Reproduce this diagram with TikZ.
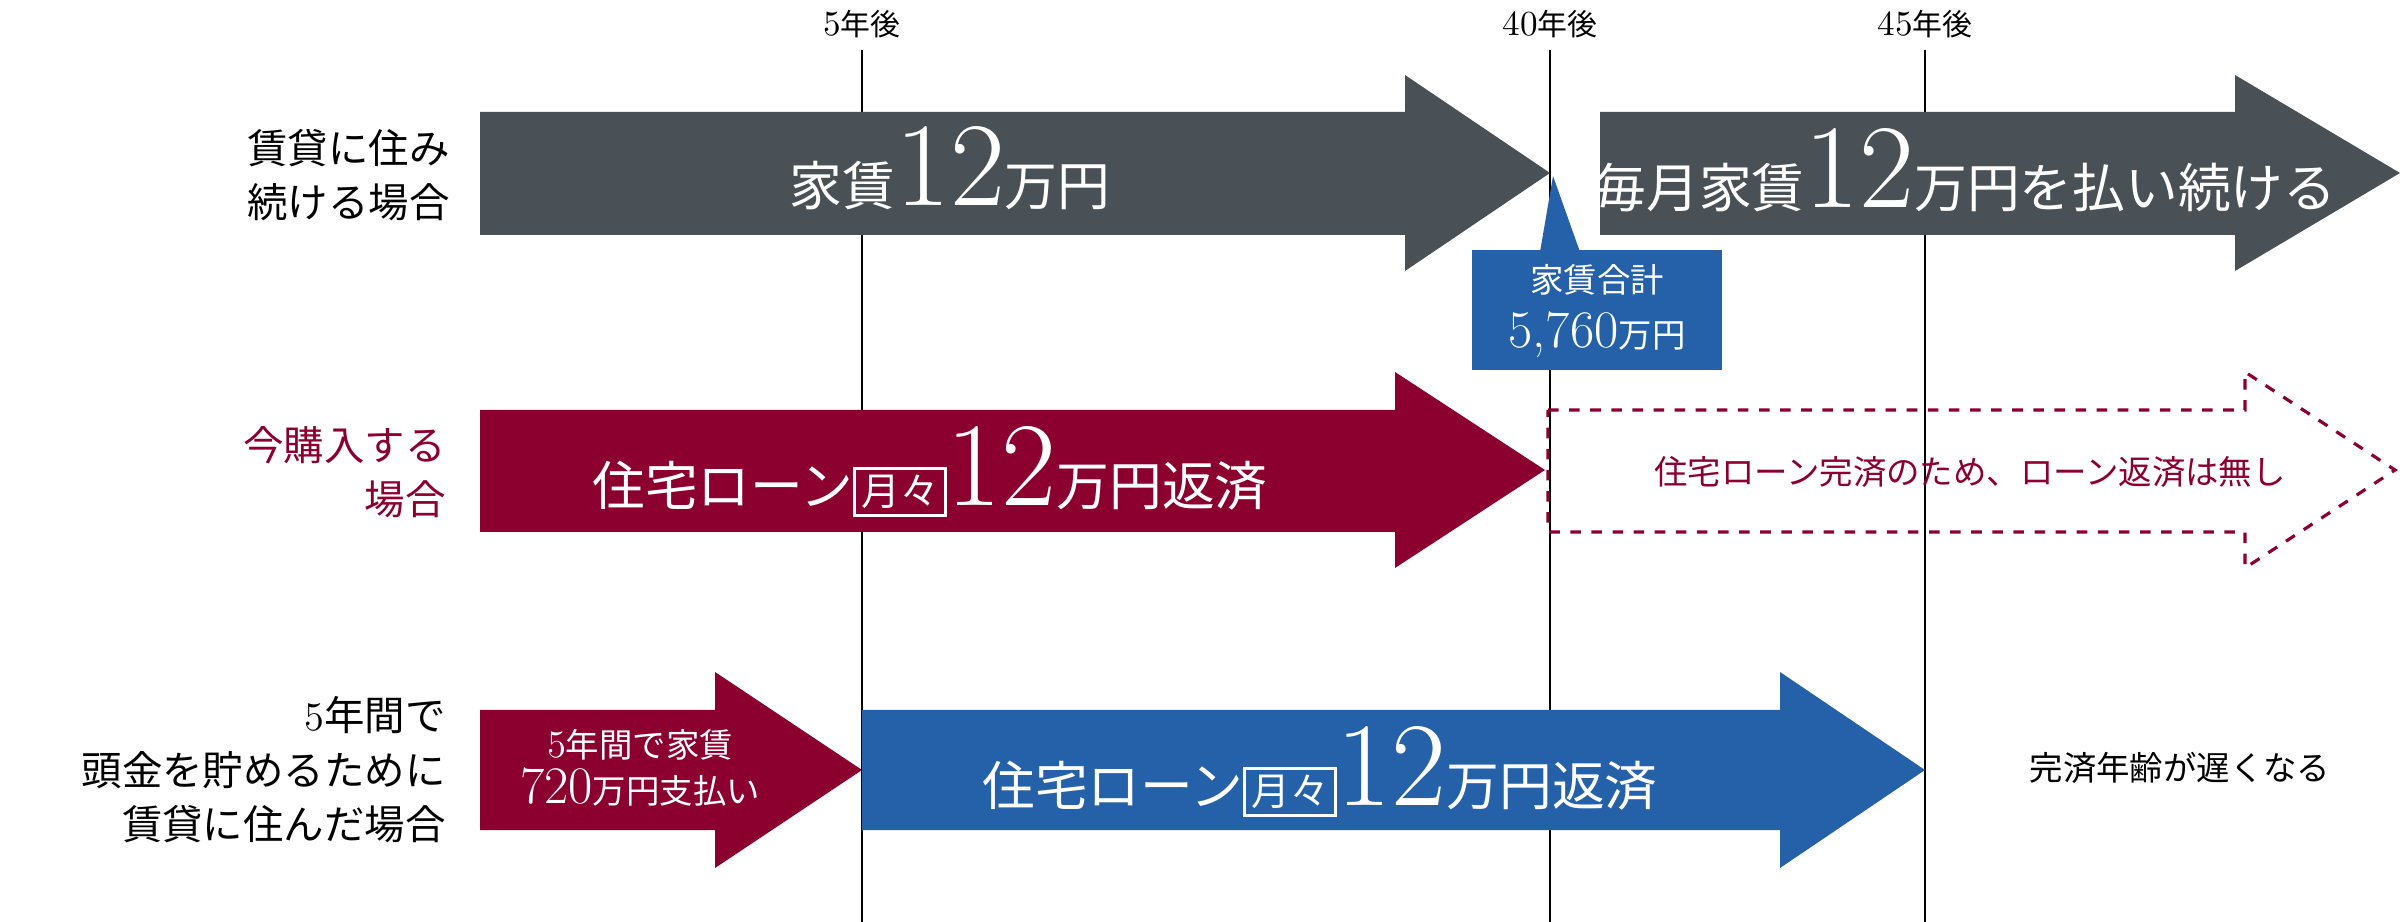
\documentclass[tikz,border=0pt]{standalone}
\usepackage{fontspec}
\newfontfamily\jp{Noto Sans CJK JP}
\usetikzlibrary{positioning}
\definecolor{gray1}{HTML}{495056}
\definecolor{wine}{HTML}{8B002E}
\definecolor{blue1}{HTML}{2561A8}
\newcommand\bignum[1]{{\rmfamily\fontsize{34}{34}\selectfont #1}}
\newcommand\tsuki{\setlength\fboxsep{1.5pt}\setlength\fboxrule{0.8pt}\fbox{\fontsize{11}{11}\selectfont 月々}}
\tikzset{
  lbl/.style={font=\jp\fontsize{11.5}{15.5}\selectfont, align=right, anchor=east},
  intxt/.style={font=\jp\fontsize{15}{15}\selectfont, white},
  yr/.style={font=\jp\fontsize{8.5}{8.5}\selectfont}
}
\newcommand\arrowshape[6]{% x0, x1, x2, ybody1, ybody2, ytip
  (#1,#4) -- (#2,#4) -- (#2,#6-98) -- (#3,#6) -- (#2,#6+98) -- (#2,#5) -- (#1,#5) -- cycle}
\begin{document}
\begin{tikzpicture}[x=0.01cm, y=-0.01cm]
\useasboundingbox (0,0) rectangle (2400,922);
% year lines
\foreach \x/\t in {862/5, 1550/40, 1925/45}
{
  \draw[line width=0.8pt] (\x,50) -- (\x,922);
  \node[yr] (y\t) at (\x,24) {{\rmfamily\fontsize{10}{10}\selectfont \t}年後};
}
% row 1
\fill[gray1] \arrowshape{480}{1405}{1550}{112}{235}{173};
\fill[gray1] \arrowshape{1600}{2235}{2400}{112}{235}{173};
\node[intxt] (rent) at (950,168) {家賃\bignum{12}万円};
\node[intxt] (rent2) at (1965,170) {毎月家賃\bignum{12}万円を払い続ける};
\fill[blue1] (1472,250) rectangle (1722,370);
\fill[blue1] (1553,176) -- (1580,252) -- (1540,252) -- cycle;
\node[white, font=\jp\fontsize{9.5}{9.5}\selectfont] (sum1) at (1597,280) {家賃合計};
\node[white, font=\jp\fontsize{9.5}{9.5}\selectfont] (sum2) at (1597,335) {{\rmfamily\fontsize{15}{15}\selectfont 5,760}万円};
\node[lbl] (l1) at (462,175) {賃貸に住み\\続ける場合};
% row 2
\fill[wine] \arrowshape{480}{1395}{1545}{410}{532}{470};
\draw[wine, dashed, line width=0.9pt] \arrowshape{1548}{2245}{2395}{410}{532}{470};
\node[intxt] (loan1) at (930,472) {住宅ローン\tsuki\bignum{12}万円返済};
\node[wine, font=\jp\fontsize{9.5}{9.5}\selectfont] (done) at (1970,472) {住宅ローン完済のため、ローン返済は無し};
\node[lbl, wine] (l2) at (458,472) {今購入する\\場合};
% row 3
\fill[wine] \arrowshape{480}{715}{862}{710}{830}{770};
\fill[blue1] \arrowshape{862}{1780}{1925}{710}{830}{770};
\node[white, font=\jp\fontsize{9.5}{13}\selectfont, align=center] (pay) at (640,768) {{\rmfamily\fontsize{11}{11}\selectfont 5}年間で家賃\\{\rmfamily\fontsize{15}{15}\selectfont 720}万円支払い};
\node[intxt] (loan2) at (1320,772) {住宅ローン\tsuki\bignum{12}万円返済};
\node[font=\jp\fontsize{9.5}{9.5}\selectfont] (late) at (2180,768) {完済年齢が遅くなる};
\node[lbl] (l3) at (458,770) {{\rmfamily 5}年間で\\頭金を貯めるために\\賃貸に住んだ場合};
\end{tikzpicture}
\end{document}
